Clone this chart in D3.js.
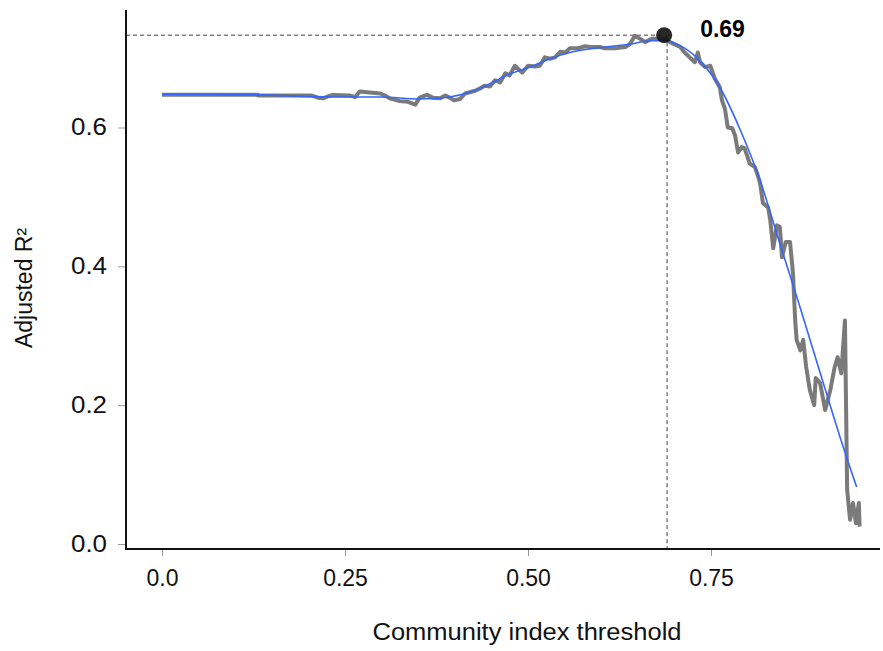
<!DOCTYPE html>
<html>
<head>
<meta charset="utf-8">
<script src="https://cdn.jsdelivr.net/npm/d3@7"></script>
<style>
    body { margin: 0; background: #fff; }
    svg { font-family: "Liberation Sans", Arial, sans-serif; }
</style>
</head>
<body>
<svg id="chart" width="883" height="651"></svg>
<script>
// raw adjusted R2 along the threshold
const thresholds = [0.000, 0.131, 0.131, 0.205, 0.213, 0.220, 0.227, 0.234, 0.257, 0.264, 0.270, 0.298, 0.305, 0.311,
    0.325, 0.336, 0.346, 0.352, 0.362, 0.370, 0.380, 0.387, 0.393, 0.399, 0.407, 0.414, 0.428, 0.434, 0.441, 0.448,
    0.455, 0.462, 0.469, 0.475, 0.482, 0.486, 0.492, 0.500, 0.510, 0.516, 0.523, 0.530, 0.537, 0.544, 0.551, 0.557,
    0.568, 0.578, 0.585, 0.598, 0.605, 0.619, 0.633, 0.639, 0.646, 0.653, 0.660, 0.669, 0.680, 0.687, 0.694, 0.708,
    0.714, 0.721, 0.728, 0.732, 0.735, 0.742, 0.749, 0.755, 0.762, 0.765, 0.769, 0.773, 0.779, 0.783, 0.787, 0.792,
    0.796, 0.803, 0.810, 0.813, 0.817, 0.821, 0.828, 0.831, 0.835, 0.840, 0.844, 0.847, 0.852, 0.858, 0.862, 0.865,
    0.867, 0.872, 0.876, 0.880, 0.885, 0.891, 0.893, 0.899, 0.906, 0.913, 0.919, 0.923, 0.928, 0.933, 0.936, 0.940,
    0.944, 0.948, 0.952, 0.953];
const adjR2 = [0.647, 0.647, 0.646, 0.646, 0.643, 0.642, 0.645, 0.647, 0.646, 0.644, 0.652, 0.649, 0.646, 0.642,
    0.638, 0.637, 0.633, 0.643, 0.647, 0.643, 0.642, 0.646, 0.643, 0.639, 0.641, 0.649, 0.653, 0.656, 0.660, 0.659,
    0.668, 0.665, 0.678, 0.675, 0.689, 0.685, 0.679, 0.689, 0.688, 0.689, 0.701, 0.699, 0.701, 0.709, 0.708, 0.714,
    0.714, 0.717, 0.716, 0.716, 0.714, 0.714, 0.716, 0.720, 0.732, 0.728, 0.723, 0.728, 0.728, 0.728, 0.723, 0.716,
    0.708, 0.701, 0.694, 0.708, 0.694, 0.687, 0.689, 0.671, 0.658, 0.639, 0.627, 0.600, 0.599, 0.588, 0.564, 0.572,
    0.570, 0.548, 0.543, 0.534, 0.520, 0.491, 0.485, 0.466, 0.426, 0.459, 0.457, 0.413, 0.435, 0.435, 0.390, 0.322,
    0.294, 0.279, 0.294, 0.255, 0.222, 0.200, 0.239, 0.232, 0.193, 0.222, 0.255, 0.269, 0.246, 0.322, 0.078, 0.035,
    0.059, 0.030, 0.059, 0.025];

// smoothed fit
const smoothX = [0.000, 0.131, 0.230, 0.298, 0.352, 0.393, 0.421, 0.448, 0.475, 0.503, 0.530, 0.557, 0.598, 0.639,
    0.667, 0.687, 0.708, 0.735, 0.762, 0.789, 0.817, 0.844, 0.872, 0.899, 0.926, 0.949];
const smoothY = [0.648, 0.647, 0.644, 0.644, 0.641, 0.644, 0.651, 0.663, 0.677, 0.687, 0.699, 0.708, 0.715, 0.720,
    0.725, 0.725, 0.718, 0.696, 0.658, 0.599, 0.524, 0.433, 0.340, 0.247, 0.155, 0.082];

const peakX = 0.686, peakY = 0.733, cutX = 0.69;
const peakLabel = "0.69";

const xTicks = [0, 0.25, 0.5, 0.75];
const xTickLabels = ["0.0", "0.25", "0.50", "0.75"];
const yTicks = [0, 0.2, 0.4, 0.6];
const yTickLabels = ["0.0", "0.2", "0.4", "0.6"];

const svg = d3.select("#chart");

const x = d3.scaleLinear().domain([0, 1]).range([162, 894]);
const y = d3.scaleLinear().domain([0, 0.6]).range([544, 127.5]);

const axisY = 549, axisX = 126;

// axes
const gx = svg.append("g")
    .attr("transform", `translate(0, ${axisY})`)
    .call(d3.axisBottom(x).tickValues(xTicks).tickSize(7).tickPadding(14)
        .tickFormat((d, i) => xTickLabels[i]));
gx.select(".domain").remove();
gx.selectAll(".tick line").attr("stroke", "#999").attr("stroke-width", 1);
gx.selectAll(".tick text").attr("font-size", "23px").attr("fill", "#111")
    .attr("font-family", "Liberation Sans, Arial, sans-serif");

const gy = svg.append("g")
    .attr("transform", `translate(${axisX}, 0)`)
    .call(d3.axisLeft(y).tickValues(yTicks).tickSize(8).tickPadding(11)
        .tickFormat((d, i) => yTickLabels[i]));
gy.select(".domain").remove();
gy.selectAll(".tick line").attr("stroke", "#999").attr("stroke-width", 1);
gy.selectAll(".tick text").attr("font-size", "23px").attr("fill", "#111")
    .attr("font-family", "Liberation Sans, Arial, sans-serif")
    .attr("textLength", 36).attr("lengthAdjust", "spacingAndGlyphs");

svg.append("line")
    .attr("x1", axisX).attr("x2", axisX)
    .attr("y1", 10).attr("y2", axisY + 1)
    .attr("stroke", "#111").attr("stroke-width", 2);
svg.append("line")
    .attr("x1", axisX - 1).attr("x2", 880)
    .attr("y1", axisY).attr("y2", axisY)
    .attr("stroke", "#111").attr("stroke-width", 2);

// guide lines to the peak
svg.append("line")
    .attr("x1", axisX).attr("x2", x(peakX))
    .attr("y1", y(peakY)).attr("y2", y(peakY))
    .attr("stroke", "#111").attr("stroke-width", 0.8).attr("stroke-dasharray", "4,3");
svg.append("line")
    .attr("x1", x(cutX)).attr("x2", x(cutX))
    .attr("y1", y(peakY)).attr("y2", axisY)
    .attr("stroke", "#111").attr("stroke-width", 0.8).attr("stroke-dasharray", "4,3");

// raw curve
const raw = thresholds.map((t, i) => [t, adjR2[i]]);
svg.append("path")
    .datum(raw)
    .attr("fill", "none")
    .attr("stroke", "#7a7a7a")
    .attr("stroke-width", 4)
    .attr("stroke-linejoin", "round")
    .attr("d", d3.line().x(d => x(d[0])).y(d => y(d[1])));

// smooth fit
const fit = smoothX.map((t, i) => [t, smoothY[i]]);
svg.append("path")
    .datum(fit)
    .attr("fill", "none")
    .attr("stroke", "#3366FF")
    .attr("stroke-width", 1.6)
    .attr("d", d3.line().curve(d3.curveMonotoneX).x(d => x(d[0])).y(d => y(d[1])));

// peak marker
svg.append("circle")
    .attr("cx", x(peakX)).attr("cy", y(peakY))
    .attr("r", 8)
    .attr("fill", "#111").attr("fill-opacity", 0.9);

svg.append("text")
    .attr("x", x(peakX) + 36).attr("y", y(peakY) + 2)
    .attr("font-size", "23px")
    .attr("font-weight", "bold")
    .attr("fill", "#000")
    .text(peakLabel);

// titles
svg.append("text")
    .attr("x", 527).attr("y", 640)
    .attr("text-anchor", "middle")
    .attr("font-size", "23px")
    .attr("textLength", 309).attr("lengthAdjust", "spacingAndGlyphs")
    .attr("fill", "#111")
    .text("Community index threshold");

svg.append("text")
    .attr("transform", "translate(32, 288) rotate(-90)")
    .attr("text-anchor", "middle")
    .attr("font-size", "23px")
    .attr("fill", "#111")
    .text("Adjusted R²");
</script>
</body>
</html>
